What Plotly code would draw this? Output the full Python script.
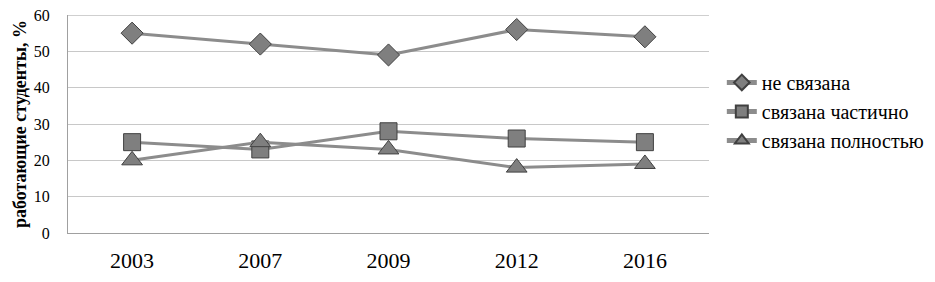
import plotly.graph_objects as go

years = ["2003", "2007", "2009", "2012", "2016"]
ne_svyazana = [55, 52, 49, 56, 54]
chastichno = [25, 23, 28, 26, 25]
polnostyu = [20, 25, 23, 18, 19]

line_color = "#8c8c8c"
marker_color = "#7f7f7f"
outline = "#404040"
serif = "Liberation Serif"

fig = go.Figure()
fig.add_trace(go.Scatter(x=years, y=ne_svyazana, name="не связана", mode="lines+markers",
                         line=dict(color=line_color, width=3),
                         marker=dict(symbol="diamond", size=17, color=marker_color, line=dict(color=outline, width=1))))
fig.add_trace(go.Scatter(x=years, y=chastichno, name="связана частично", mode="lines+markers",
                         line=dict(color=line_color, width=3),
                         marker=dict(symbol="square", size=17, color=marker_color, line=dict(color=outline, width=1))))
fig.add_trace(go.Scatter(x=years, y=polnostyu, name="связана полностью", mode="lines+markers",
                         line=dict(color=line_color, width=3),
                         marker=dict(symbol="triangle-up", size=18, color=marker_color, line=dict(color=outline, width=1))))

fig.update_layout(
    width=935, height=282,
    margin=dict(l=60, r=234, t=7, b=57, autoexpand=False),
    paper_bgcolor="white", plot_bgcolor="white",
    font=dict(family=serif, color="black"),
    legend=dict(x=1.02, y=0.78, xanchor="left", yanchor="top", itemsizing="constant",
                font=dict(family=serif, size=20, color="black"), tracegroupgap=10, itemwidth=30),
    showlegend=True,
)
fig.update_xaxes(type="category", showgrid=False, showline=True, linecolor="#a0a0a0",
                 tickfont=dict(family=serif, size=22), ticks="", range=[-0.5, 4.5], automargin=False,
                 ticklabelstandoff=8)
fig.update_yaxes(range=[0, 60], dtick=10, showgrid=True, gridcolor="#c8c8c8", gridwidth=1,
                 showline=True, linecolor="#a0a0a0", tickfont=dict(family=serif, size=16), zeroline=False,
                 ticks="", automargin=False, ticklabelstandoff=14, ticklabeloverflow="allow",
                 title=dict(text="<b>работающие студенты, %</b>", font=dict(family=serif, size=18), standoff=2))
fig.add_shape(type="line", xref="paper", yref="y", x0=0, x1=1, y0=60, y1=60,
              line=dict(color="#a0a0a0", width=1))

fig.write_html("out.html")
